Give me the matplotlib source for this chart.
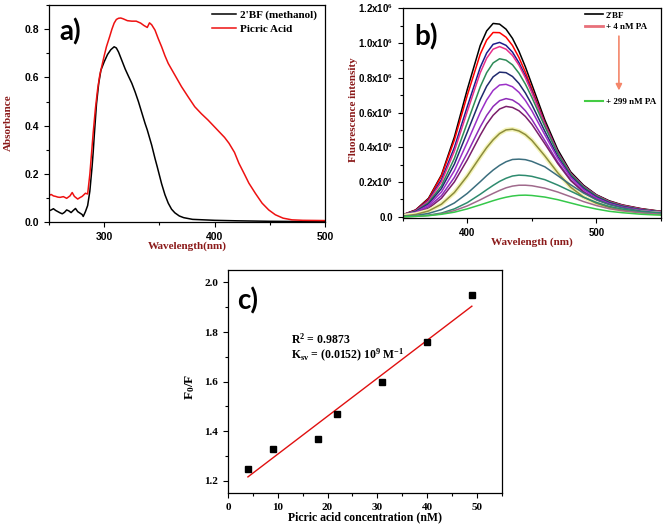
import numpy as np
import matplotlib
matplotlib.use("Agg")
import matplotlib.pyplot as plt
from matplotlib.ticker import MultipleLocator, FuncFormatter
from matplotlib.lines import Line2D

plt.rcParams['font.family'] = ['Liberation Sans', 'DejaVu Sans']
plt.rcParams['font.weight'] = 'bold'
plt.rcParams['axes.labelweight'] = 'bold'
plt.rcParams['mathtext.fontset'] = 'custom'
plt.rcParams['mathtext.rm'] = 'Liberation Serif:bold'
plt.rcParams['mathtext.it'] = 'Liberation Serif:bold'
plt.rcParams['mathtext.bf'] = 'Liberation Serif:bold'

SANS = ['Liberation Sans', 'DejaVu Sans']
SERIF = ['Liberation Serif', 'DejaVu Serif']
DARKRED = '#8b1a1a'

# ---- panel a : absorbance
wl_bf = [250, 252, 254, 256, 258, 260, 262, 264, 266, 268, 270, 272, 274, 276, 278, 280, 281, 283, 285, 287,
         289, 290, 291, 293, 295, 297, 300, 303, 306, 309, 311, 313, 316, 319, 322, 325, 328, 331, 334, 337,
         339, 343, 346, 348, 352, 355, 358, 361, 364, 368, 372, 380, 400, 420, 450, 480, 500]
abs_bf = [0.048, 0.052, 0.057, 0.05, 0.045, 0.04, 0.036, 0.042, 0.052, 0.048, 0.041, 0.05, 0.058, 0.045, 0.039,
          0.033, 0.025, 0.045, 0.07, 0.13, 0.23, 0.29, 0.36, 0.49, 0.575, 0.63, 0.665, 0.695, 0.715, 0.727,
          0.722, 0.705, 0.67, 0.635, 0.605, 0.576, 0.54, 0.5, 0.455, 0.41, 0.383, 0.32, 0.265, 0.231, 0.16,
          0.115, 0.08, 0.055, 0.04, 0.027, 0.02, 0.013, 0.009, 0.007, 0.005, 0.004, 0.003]
wl_pa = [250, 252, 254, 256, 258, 260, 263, 266, 269, 271, 273, 276, 278, 280, 283, 285, 287, 290, 292, 294,
         296, 298, 300, 302, 305, 307, 309, 311, 313, 315, 317, 321, 325, 329, 333, 336, 339, 341, 343, 346,
         349, 352, 355, 358, 364, 370, 376, 382, 388, 394, 399, 404, 409, 413, 418, 422, 427, 431, 437, 443,
         449, 455, 462, 470, 480, 500]
abs_pa = [0.112, 0.116, 0.11, 0.108, 0.105, 0.104, 0.107, 0.1, 0.11, 0.124, 0.108, 0.097, 0.103, 0.108, 0.121,
          0.118, 0.2, 0.37, 0.47, 0.55, 0.61, 0.65, 0.69, 0.727, 0.77, 0.8, 0.825, 0.84, 0.845, 0.846,
          0.843, 0.835, 0.833, 0.833, 0.825, 0.815, 0.807, 0.826, 0.818, 0.796, 0.76, 0.727, 0.69, 0.658, 0.61,
          0.562, 0.52, 0.479, 0.45, 0.424, 0.4, 0.376, 0.352, 0.328, 0.29, 0.245, 0.2, 0.163, 0.12, 0.08,
          0.052, 0.032, 0.018, 0.011, 0.009, 0.008]

# ---- panel b : fluorescence titration (intensity in 10^6)
wl_fl = [350, 360, 370, 380, 390, 400, 410, 415, 420, 425, 430, 435, 440, 445, 450, 460, 470, 480, 490, 500,
         510, 520, 535, 550]
fl_spectra = [
    [0.012, 0.040, 0.107, 0.241, 0.459, 0.733, 0.985, 1.069, 1.112, 1.108, 1.079, 1.026, 0.952, 0.862, 0.761, 0.558, 0.387, 0.259, 0.182, 0.127, 0.092, 0.069, 0.047, 0.032],
    [0.012, 0.039, 0.103, 0.236, 0.442, 0.699, 0.935, 1.016, 1.060, 1.059, 1.033, 0.985, 0.916, 0.831, 0.736, 0.542, 0.373, 0.251, 0.177, 0.124, 0.089, 0.067, 0.045, 0.031],
    [0.012, 0.037, 0.096, 0.214, 0.399, 0.634, 0.859, 0.942, 0.992, 1.003, 0.986, 0.947, 0.886, 0.810, 0.723, 0.538, 0.373, 0.250, 0.177, 0.124, 0.088, 0.066, 0.044, 0.030],
    [0.011, 0.035, 0.091, 0.201, 0.378, 0.606, 0.828, 0.912, 0.964, 0.979, 0.964, 0.928, 0.872, 0.799, 0.714, 0.533, 0.370, 0.249, 0.175, 0.123, 0.087, 0.066, 0.044, 0.030],
    [0.011, 0.032, 0.082, 0.179, 0.336, 0.541, 0.747, 0.829, 0.885, 0.909, 0.901, 0.874, 0.826, 0.763, 0.687, 0.520, 0.365, 0.245, 0.172, 0.120, 0.085, 0.063, 0.042, 0.029],
    [0.010, 0.030, 0.075, 0.163, 0.303, 0.487, 0.674, 0.751, 0.805, 0.832, 0.829, 0.807, 0.767, 0.712, 0.645, 0.493, 0.348, 0.235, 0.164, 0.114, 0.081, 0.060, 0.040, 0.027],
    [0.009, 0.027, 0.067, 0.143, 0.266, 0.429, 0.600, 0.672, 0.727, 0.758, 0.762, 0.748, 0.716, 0.669, 0.610, 0.472, 0.337, 0.228, 0.157, 0.109, 0.077, 0.057, 0.038, 0.026],
    [0.008, 0.024, 0.058, 0.122, 0.227, 0.367, 0.517, 0.583, 0.635, 0.668, 0.680, 0.672, 0.648, 0.610, 0.560, 0.439, 0.316, 0.214, 0.146, 0.102, 0.071, 0.052, 0.035, 0.024],
    [0.007, 0.020, 0.049, 0.107, 0.201, 0.328, 0.469, 0.533, 0.584, 0.620, 0.635, 0.629, 0.610, 0.577, 0.532, 0.421, 0.307, 0.209, 0.142, 0.099, 0.070, 0.051, 0.034, 0.023],
    [0.005, 0.014, 0.034, 0.073, 0.140, 0.235, 0.345, 0.398, 0.443, 0.479, 0.500, 0.504, 0.494, 0.473, 0.440, 0.351, 0.254, 0.171, 0.114, 0.078, 0.054, 0.039, 0.025, 0.017],
    [0.003, 0.008, 0.020, 0.042, 0.080, 0.135, 0.202, 0.237, 0.269, 0.296, 0.317, 0.330, 0.332, 0.329, 0.319, 0.288, 0.237, 0.185, 0.137, 0.098, 0.071, 0.052, 0.033, 0.023],
    [0.001, 0.004, 0.010, 0.022, 0.046, 0.082, 0.130, 0.156, 0.181, 0.204, 0.222, 0.235, 0.240, 0.238, 0.233, 0.214, 0.183, 0.148, 0.113, 0.083, 0.060, 0.045, 0.029, 0.020],
    [0.001, 0.003, 0.008, 0.018, 0.036, 0.063, 0.098, 0.117, 0.135, 0.152, 0.167, 0.177, 0.182, 0.182, 0.179, 0.165, 0.143, 0.116, 0.088, 0.065, 0.047, 0.035, 0.023, 0.015],
    [0.001, 0.003, 0.007, 0.015, 0.027, 0.046, 0.069, 0.081, 0.093, 0.104, 0.113, 0.120, 0.124, 0.125, 0.123, 0.114, 0.099, 0.080, 0.061, 0.045, 0.032, 0.024, 0.015, 0.010],
]
fl_colors = ['#000000', '#ff0000', '#1c1c8c', '#e8308a', '#2e8b57', '#1f2a6e', '#9b30c8',
             '#8e2bb8', '#7a1f6a', '#8c8c3c', '#3b6e7e', '#2e8b6e', '#a06a8c', '#35c84a']

# ---- panel c : Stern-Volmer
conc = [4, 9, 18, 22, 31, 40, 49]
f0_f = [1.25, 1.33, 1.37, 1.47, 1.60, 1.76, 1.95]

fig = plt.figure(figsize=(6.64, 5.28), dpi=100)
ax_a = fig.add_axes([0.0738, 0.5786, 0.4157, 0.412])
ax_b = fig.add_axes([0.6065, 0.5866, 0.389, 0.398])
ax_c = fig.add_axes([0.3434, 0.0657, 0.4122, 0.4229])

def style(ax, fam, size):
    for s in ax.spines.values():
        s.set_linewidth(0.9)
    ax.tick_params(which='both', direction='out', top=False, right=False, width=0.8,
                   labelsize=size, labelfontfamily=fam)
    ax.tick_params(which='major', length=3.5)
    ax.tick_params(which='minor', length=2)
    for lbl in ax.get_xticklabels() + ax.get_yticklabels():
        lbl.set_fontweight('bold')

# a)
ax_a.plot(wl_bf, abs_bf, color='black', lw=1.1, label="2'BF (methanol)")
ax_a.plot(wl_pa, abs_pa, color='#ee1111', lw=1.1, label='Picric Acid')
ax_a.set_xlim(250, 500)
ax_a.set_ylim(0, 0.9)
ax_a.xaxis.set_major_locator(MultipleLocator(100))
ax_a.xaxis.set_minor_locator(MultipleLocator(50))
ax_a.yaxis.set_major_locator(MultipleLocator(0.2))
ax_a.yaxis.set_minor_locator(MultipleLocator(0.1))
ax_a.yaxis.set_major_formatter(FuncFormatter(lambda v, p: f'{v:.1f}'))
style(ax_a, SANS, 7.5)
ax_a.set_xlabel('Wavelength(nm)', family=SERIF, fontsize=8, color=DARKRED, fontweight='bold')
ax_a.set_ylabel('Absorbance', family=SERIF, fontsize=8, color=DARKRED, fontweight='bold')
ax_a.xaxis.set_label_coords(0.5, -0.085)
ax_a.yaxis.set_label_coords(-0.13, 0.46)
ax_a.legend(loc='upper right', bbox_to_anchor=(0.97, 0.975), frameon=False, borderpad=0,
            borderaxespad=0, handlelength=2.2, handletextpad=0.3, labelspacing=0.35,
            prop={'family': SERIF, 'weight': 'bold', 'size': 8})

# b)
for ys, col in zip(fl_spectra, fl_colors):
    vals = np.array(ys) * 1e6
    if col == '#8c8c3c':
        ax_b.plot(wl_fl, vals, color='#f4f4b8', lw=3.2)
    ax_b.plot(wl_fl, vals, color=col, lw=1.1)
ax_b.set_xlim(350, 550)
ax_b.set_ylim(-0.008e6, 1.2e6)
ax_b.xaxis.set_major_locator(MultipleLocator(100))
ax_b.xaxis.set_minor_locator(MultipleLocator(50))
ax_b.yaxis.set_major_locator(MultipleLocator(0.2e6))
ax_b.yaxis.set_minor_locator(MultipleLocator(0.1e6))
ax_b.yaxis.set_major_formatter(FuncFormatter(lambda v, p: '0.0' if abs(v) < 1 else f'{v/1e6:.1f}x10$^{{6}}$'))
style(ax_b, SANS, 7)
ax_b.set_xlabel('Wavelength (nm)', family=SERIF, fontsize=8, color=DARKRED, fontweight='bold')
ax_b.set_ylabel('Fluorescence intensity', family=SERIF, fontsize=8, color=DARKRED, fontweight='bold')
ax_b.xaxis.set_label_coords(0.5, -0.091)
ax_b.yaxis.set_label_coords(-0.172, 0.515)
leg_prop = {'family': SERIF, 'weight': 'bold', 'size': 6.5}
h1 = [Line2D([], [], color='black', lw=1.2), Line2D([], [], color='#e8707a', lw=2)]
leg1 = ax_b.legend(h1, ["2'BF", '+ 4 nM PA'], loc='upper left', bbox_to_anchor=(0.706, 0.985),
                   frameon=False, borderpad=0, borderaxespad=0, handlelength=2.0,
                   handletextpad=0.3, labelspacing=0.35, prop=leg_prop)
ax_b.add_artist(leg1)
ax_b.legend([Line2D([], [], color='#44cc44', lw=1.5)], ['+ 299 nM PA'], loc='center left',
            bbox_to_anchor=(0.706, 0.554), frameon=False, borderpad=0, borderaxespad=0,
            handlelength=2.0, handletextpad=0.3, prop=leg_prop)
ax_b.annotate('', xy=(0.837, 0.595), xytext=(0.837, 0.88), xycoords='axes fraction',
              arrowprops=dict(arrowstyle='-|>', color='#f4866a', lw=1.2, mutation_scale=9))

# c)
slope, icpt = np.polyfit(conc, f0_f, 1)
xf = np.array([conc[0], conc[-1]])
ax_c.plot(xf, slope * xf + icpt, color='#e01010', lw=1.0)
ax_c.plot(conc, f0_f, 's', color='black', ms=4.5)
ax_c.set_xlim(0, 55)
ax_c.set_ylim(1.15, 2.05)
ax_c.xaxis.set_major_locator(MultipleLocator(10))
ax_c.xaxis.set_minor_locator(MultipleLocator(5))
ax_c.yaxis.set_major_locator(MultipleLocator(0.2))
ax_c.yaxis.set_minor_locator(MultipleLocator(0.1))
ax_c.yaxis.set_major_formatter(FuncFormatter(lambda v, p: f'{v:.1f}'))
style(ax_c, SERIF, 8)
ax_c.set_xlabel('Picric acid concentration (nM)', family=SERIF, fontsize=8.5, fontweight='bold')
ax_c.set_ylabel('F$_{0}$/F', family=SERIF, fontsize=9.5, fontweight='bold')
ax_c.xaxis.set_label_coords(0.5, -0.079)
ax_c.yaxis.set_label_coords(-0.113, 0.477)
ax_c.text(12.7, 1.80, 'R$^{2}$ = 0.9873\nK$_{\\rm sv}$ = (0.0152) 10$^{9}$ M$^{-1}$', family=SERIF,
          fontsize=8.5, fontweight='bold', va='top', linespacing=1.0)

# panel letters
for x, y, t in [(0.1054, 0.9394, 'a)'), (0.6416, 0.9299, 'b)'), (0.3735, 0.4299, 'c)')]:
    fig.text(x, y, t, family=['Lato', 'DejaVu Sans'], fontweight='bold', fontsize=20,
             ha='center', va='center')

fig.savefig('out.png', dpi=100)
